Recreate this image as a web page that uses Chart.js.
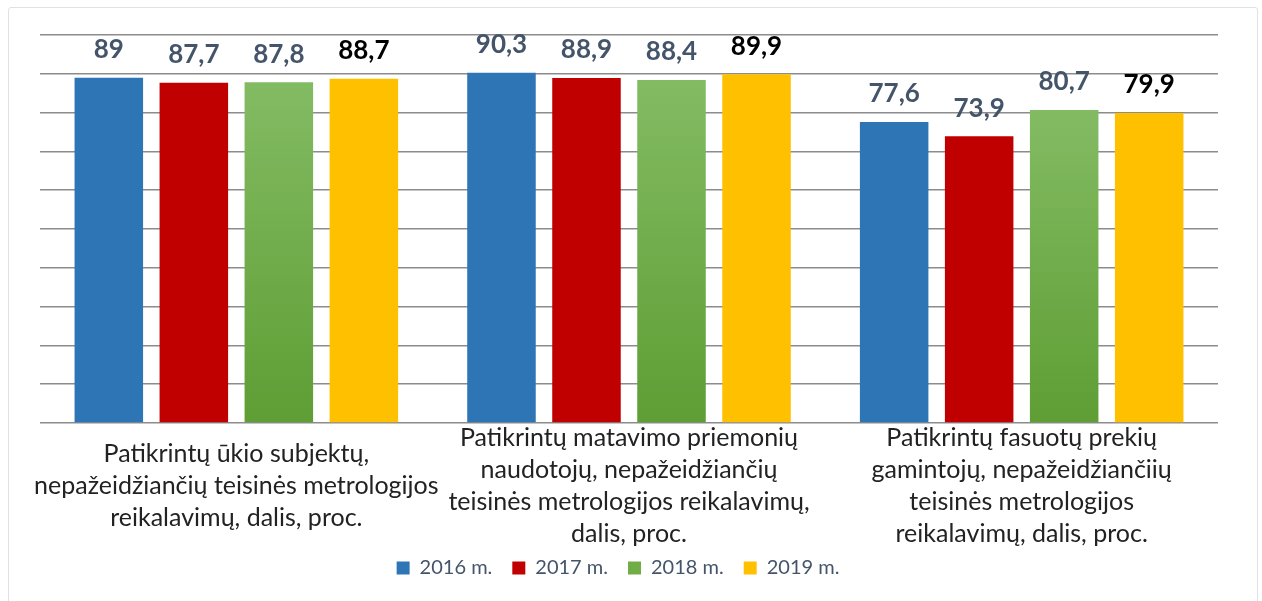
<!DOCTYPE html>
<html>
<head>
<meta charset="utf-8">
<script src="https://cdn.jsdelivr.net/npm/chart.js@4.4.1/dist/chart.umd.min.js"></script>
<style>
  html, body { margin: 0; padding: 0; background: #fff; }
  #frame { position: absolute; left: 8px; top: 7px; width: 1248px; height: 600px; border: 1px solid #dce2e8; border-radius: 3px; }
  #wrap { position: absolute; left: 0; top: 0; width: 1262px; height: 601px; }
</style>
</head>
<body>
<div id="frame"></div>
<div id="wrap"><canvas id="chart" width="1262" height="601"></canvas></div>
<script>
// ── data ──
const categories = [
  ['Patikrintų ūkio subjektų,', 'nepažeidžiančių teisinės metrologijos', 'reikalavimų, dalis, proc.'],
  ['Patikrintų matavimo priemonių', 'naudotojų, nepažeidžiančių', 'teisinės metrologijos reikalavimų,', 'dalis, proc.'],
  ['Patikrintų fasuotų prekių', 'gamintojų, nepažeidžiančiių', 'teisinės metrologijos', 'reikalavimų, dalis, proc.']
];
const seriesNames = ['2016 m.', '2017 m.', '2018 m.', '2019 m.'];
const values2016 = [89, 90.3, 77.6];
const values2017 = [87.7, 88.9, 73.9];
const values2018 = [87.8, 88.4, 80.7];
const values2019 = [88.7, 89.9, 79.9];
const yTicks = { min: 0, max: 100, step: 10 };

const FONT = 'Lato';

// green bars get a vertical gradient per bar
function greenFill(ctx) {
  const chart = ctx.chart;
  const y = chart.scales && chart.scales.y;
  if (ctx.type !== 'data' || !y || ctx.raw == null) return '#70AD47';
  const top = y.getPixelForValue(ctx.raw);
  const base = y.getPixelForValue(0);
  if (!isFinite(top) || !isFinite(base)) return '#70AD47';
  const g = chart.ctx.createLinearGradient(0, top, 0, base);
  g.addColorStop(0, '#83BB63');
  g.addColorStop(1, '#5E9E34');
  return g;
}

const valueLabels = {
  id: 'valueLabels',
  afterDatasetsDraw(chart) {
    const { ctx } = chart;
    ctx.save();
    ctx.font = `bold 26px ${FONT}`;
    ctx.textAlign = 'center';
    ctx.textBaseline = 'middle';
    chart.data.datasets.forEach((ds, di) => {
      const meta = chart.getDatasetMeta(di);
      ctx.fillStyle = di === 3 ? '#000000' : '#44546A';
      meta.data.forEach((bar, i) => {
        const txt = String(ds.data[i]).replace('.', ',');
        ctx.fillText(txt, bar.x, bar.y - 28);
      });
    });
    ctx.restore();
  }
};

// legend sits a bit left of the plot centre and tucked up under the labels
const legendShift = {
  id: 'legendShift',
  afterLayout(chart) {
    const lg = chart.legend;
    if (!lg) return;
    lg.left -= 11; lg.right -= 11;
    lg.top -= 13; lg.bottom -= 13;
  }
};

new Chart(document.getElementById('chart'), {
  type: 'bar',
  data: {
    labels: categories,
    datasets: [
      { label: seriesNames[0], data: values2016, backgroundColor: '#2E75B6' },
      { label: seriesNames[1], data: values2017, backgroundColor: '#C00000' },
      { label: seriesNames[2], data: values2018, backgroundColor: greenFill },
      { label: seriesNames[3], data: values2019, backgroundColor: '#FFC000' }
    ]
  },
  options: {
    responsive: false, animation: false,
    datasets: { bar: { categoryPercentage: 0.866, barPercentage: 0.806 } },
    layout: { padding: { top: 35, left: 40, right: 44, bottom: 0 } },
    plugins: {
      legend: {
        position: 'bottom',
        labels: {
          font: { family: FONT, size: 20 }, color: '#44546A',
          boxWidth: 13, boxHeight: 13, padding: 20,
          generateLabels: (chart) => Chart.defaults.plugins.legend.labels.generateLabels(chart).map((l, i) => {
            if (i === 2) l.fillStyle = '#70AD47';
            l.strokeStyle = 'transparent'; l.lineWidth = 0;
            return l;
          })
        }
      },
      tooltip: { enabled: false }
    },
    scales: {
      x: {
        grid: { display: false },
        border: { display: false },
        afterFit: (scale) => { scale.height = 128; },
        ticks: {
          autoSkip: false, maxRotation: 0, minRotation: 0,
          font: { family: FONT, size: 25, lineHeight: 1.28 }, color: '#222222',
          padding: 7, crossAlign: 'center'
        }
      },
      y: {
        min: yTicks.min, max: yTicks.max,
        grid: { color: '#8c8c8c', lineWidth: 1.5, drawTicks: false },
        border: { display: false },
        ticks: { display: false, stepSize: yTicks.step }
      }
    }
  },
  plugins: [valueLabels, legendShift]
});
</script>
</body>
</html>
